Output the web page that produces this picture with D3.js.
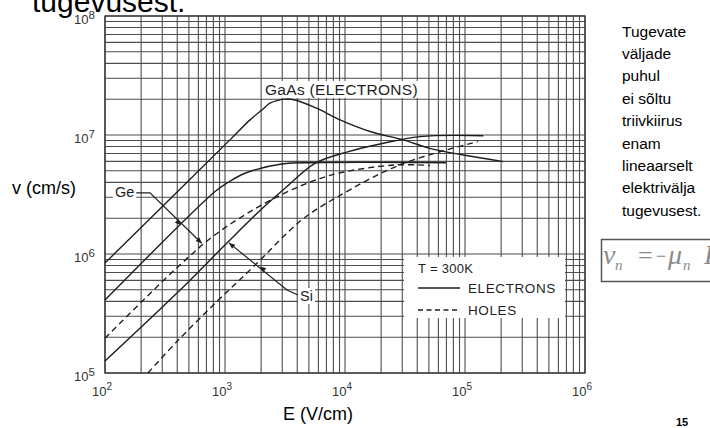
<!DOCTYPE html>
<html><head><meta charset="utf-8">
<script src="https://cdn.jsdelivr.net/npm/d3@7"></script>
<style>
body{margin:0;background:#fff;}
svg{display:block;}
</style></head><body>
<svg id="c" width="710" height="428"></svg>
<script>
// ---------- data ----------
const xTickValues = [1e2, 1e3, 1e4, 1e5, 1e6];
const xTickExponents = ["2", "3", "4", "5", "6"];
const yTickValues = [1e5, 1e6, 1e7, 1e8];
const yTickExponents = ["5", "6", "7", "8"];
const xAxisTitle = "E (V/cm)";
const yAxisTitle = "v (cm/s)";

// GaAs electrons (solid)
const gaasE = [100, 1100, 1616, 2030, 2370, 3160, 3830, 5800, 9090, 16200, 30600, 51000, 97000, 209000];
const gaasV = [8.4e5, 9.1e6, 1.34e7, 1.62e7, 1.85e7, 2.0e7, 1.97e7, 1.68e7, 1.34e7, 1.07e7, 9.1e6, 7.73e6, 6.79e6, 5.97e6];
// Ge electrons (solid)
const geElecE = [100, 826, 1033, 1468, 2970, 5620, 69500];
const geElecV = [4.1e5, 3.35e6, 3.93e6, 4.77e6, 5.7e6, 5.85e6, 5.85e6];
// Ge holes (dashed)
const geHoleE = [100, 202, 422, 826, 2020, 4640, 8790, 26100, 51000];
const geHoleV = [1.96e5, 3.97e5, 8.1e5, 1.45e6, 2.58e6, 3.87e6, 4.77e6, 5.6e6, 5.55e6];
// Si electrons (solid)
const siElecE = [100, 396, 1033, 2020, 3270, 5620, 10700, 19600, 42200, 142000];
const siElecV = [1.26e5, 4.67e5, 1.23e6, 2.39e6, 3.68e6, 5.78e6, 7.25e6, 8.4e6, 9.7e6, 9.87e6];
// Si holes (dashed)
const siHoleE = [228, 408, 853, 1720, 4350, 8250, 29500, 128000];
const siHoleV = [1e5, 1.89e5, 3.97e5, 7.8e5, 1.93e6, 2.94e6, 5.68e6, 8.8e6];

const seriesNames = ["GaAs electrons", "Ge electrons", "Ge holes", "Si electrons", "Si holes"];
const seriesCarrier = ["electrons", "electrons", "holes", "electrons", "holes"];

// annotations (data coordinates)
const gaasLabel = "GaAs (ELECTRONS)";
const gaasLabelAt = [2154, 2.17e7];
const geLabel = "Ge";
const geLeaderE = [181, 237, 640];
const geLeaderV = [3.26e6, 3.26e6, 1.23e6];
const geMidArrow = [430, 1.75e6];
const siLabel = "Si";
const siLeaderE = [4060, 3285, 1080];
const siLeaderV = [4.52e5, 4.98e5, 1.24e6];
const siMidArrow = [1958, 7.85e5];

const legendTitle = "T = 300K";
const legendItems = ["ELECTRONS", "HOLES"];
const titleText = "tugevusest.";
const sideText = ["Tugevate", "väljade", "puhul", "ei sõltu", "triivkiirus", "enam", "lineaarselt", "elektrivälja", "tugevusest."];
const pageNumber = "15";

// ---------- drawing ----------
const svg = d3.select("#c");
const L = 105, R = 585, T = 16, B = 373;
const x = d3.scaleLog().domain([1e2, 1e6]).range([L, R]);
const y = d3.scaleLog().domain([1e5, 1e8]).range([B, T]);

const ink = "#1e1e1e";
const gridCol = "#4d4d4d";

// title (cut off at top)
svg.append("text").attr("x", 32).attr("y", 11.5)
  .attr("font-family", "Liberation Sans, Arial, sans-serif").attr("font-size", 30)
  .attr("fill", "#000").text(titleText);

// grid values
const gridVals = (lo, hi) => {
  const out = [];
  for (let d = lo; d < hi; d++) for (let k = 1; k <= 9; k++) out.push(k * Math.pow(10, d));
  out.push(Math.pow(10, hi));
  return out;
};
const gx = gridVals(2, 6), gy = gridVals(5, 8);
const grid = svg.append("g").attr("stroke", gridCol).attr("stroke-width", 1.1);
grid.selectAll("line.v").data(gx).join("line").attr("class", "v")
  .attr("x1", d => x(d)).attr("x2", d => x(d)).attr("y1", T).attr("y2", B);
grid.selectAll("line.h").data(gy).join("line").attr("class", "h")
  .attr("y1", d => y(d)).attr("y2", d => y(d)).attr("x1", L).attr("x2", R);
svg.append("rect").attr("x", L).attr("y", T).attr("width", R - L).attr("height", B - T)
  .attr("fill", "none").attr("stroke", "#333").attr("stroke-width", 1.3);

// axes via d3 (labels only)
const fontTech = "Liberation Sans, Arial, sans-serif";
const xAxis = d3.axisBottom(x).tickValues(xTickValues).tickSize(0).tickFormat(() => "");
const xg = svg.append("g").attr("transform", `translate(0,${B})`).call(xAxis);
xg.select(".domain").remove();
xg.selectAll(".tick").each(function (d, i) {
  const t = d3.select(this).append("text").attr("x", -13.5).attr("y", 23)
    .attr("text-anchor", "start").attr("fill", "#333")
    .attr("font-family", fontTech).attr("font-size", 13).text("10");
  t.append("tspan").attr("dy", -6).attr("font-size", 10).text(xTickExponents[i]);
});
const yAxis = d3.axisLeft(y).tickValues(yTickValues).tickSize(0).tickFormat(() => "");
const yg = svg.append("g").attr("transform", `translate(${L},0)`).call(yAxis);
yg.select(".domain").remove();
yg.selectAll(".tick").each(function (d, i) {
  const t = d3.select(this).append("text").attr("x", -31).attr("y", 7)
    .attr("text-anchor", "start").attr("fill", "#333")
    .attr("font-family", fontTech).attr("font-size", 13).text("10");
  t.append("tspan").attr("dy", -4.5).attr("font-size", 11.5).text(yTickExponents[i]);
});

svg.append("text").attr("x", 12).attr("y", 194).attr("font-family", "Liberation Sans, Arial, sans-serif")
  .attr("font-size", 18).attr("fill", "#000").text(yAxisTitle);
svg.append("text").attr("x", 283).attr("y", 420).attr("font-family", "Liberation Sans, Arial, sans-serif")
  .attr("font-size", 18).attr("fill", "#000").text(xAxisTitle);

// curves
const series = [
  d3.zip(gaasE, gaasV), d3.zip(geElecE, geElecV), d3.zip(geHoleE, geHoleV),
  d3.zip(siElecE, siElecV), d3.zip(siHoleE, siHoleV)
];
const line = d3.line().x(d => x(d[0])).y(d => y(d[1])).curve(d3.curveCatmullRom.alpha(0.5));
svg.append("g").selectAll("path").data(series).join("path")
  .attr("d", line).attr("fill", "none").attr("stroke", ink).attr("stroke-width", 1.4)
  .attr("stroke-dasharray", (d, i) => seriesCarrier[i] === "holes" ? "6,4" : null);

// labels with white backgrounds
function bgText(px, py, txt, size, ls) {
  const g = svg.append("g");
  const t = g.append("text").attr("x", px).attr("y", py).attr("font-family", fontTech)
    .attr("font-size", size).attr("letter-spacing", ls).attr("fill", ink).text(txt);
  const bb = t.node().getBBox();
  g.insert("rect", "text").attr("x", bb.x - 2).attr("y", bb.y).attr("width", bb.width + 4)
    .attr("height", bb.height).attr("fill", "#fff");
  return t;
}
bgText(x(gaasLabelAt[0]), y(gaasLabelAt[1]), gaasLabel, 15.5, 0.3);

// leaders
const leader = d3.line().x(d => x(d[0])).y(d => y(d[1]));
function arrowHead(px, py, ang) {
  const s = 6, w = 2.6;
  const p = [[0, 0], [-s, -w], [-s, w]].map(([a, b]) => [
    px + a * Math.cos(ang) - b * Math.sin(ang), py + a * Math.sin(ang) + b * Math.cos(ang)]);
  svg.append("path").attr("d", "M" + p.join("L") + "Z").attr("fill", ink);
}
function drawLeader(E, V, mid, label, lx, ly) {
  const pts = d3.zip(E, V);
  svg.append("path").attr("d", leader(pts)).attr("fill", "none").attr("stroke", ink).attr("stroke-width", 1.2);
  const n = pts.length;
  const a = [x(pts[n - 2][0]), y(pts[n - 2][1])], b = [x(pts[n - 1][0]), y(pts[n - 1][1])];
  const ang = Math.atan2(b[1] - a[1], b[0] - a[0]);
  arrowHead(b[0], b[1], ang);
  arrowHead(x(mid[0]), y(mid[1]), ang);
  bgText(x(pts[0][0]) + lx, y(pts[0][1]) + ly, label, 14.5, 0);
}
drawLeader(geLeaderE, geLeaderV, geMidArrow, geLabel, -21, 4.5);
drawLeader(siLeaderE, siLeaderV, siMidArrow, siLabel, 2, 6);

// legend
const lg = svg.append("g").attr("transform", "translate(404,257)");
lg.append("rect").attr("width", 161).attr("height", 61).attr("fill", "#fff");
lg.append("text").attr("x", 14).attr("y", 16).attr("font-family", fontTech).attr("font-size", 13)
  .attr("letter-spacing", 0.3).attr("fill", ink).text(legendTitle);
legendItems.forEach((t, i) => {
  const yy = 31 + i * 22;
  lg.append("line").attr("x1", 14).attr("x2", 56).attr("y1", yy).attr("y2", yy)
    .attr("stroke", ink).attr("stroke-width", 1.4).attr("stroke-dasharray", i === 1 ? "5,3.5" : null);
  lg.append("text").attr("x", 64).attr("y", yy + 5).attr("font-family", fontTech).attr("font-size", 13.5)
    .attr("letter-spacing", 0.6).attr("fill", ink).text(t);
});

// side text
svg.append("g").selectAll("text").data(sideText).join("text")
  .attr("x", 622).attr("y", (d, i) => 36.5 + i * 22.4)
  .attr("font-family", "Liberation Sans, Arial, sans-serif").attr("font-size", 15.5)
  .attr("fill", "#000").text(d => d);

// formula box
svg.append("rect").attr("x", 601.5).attr("y", 239.5).attr("width", 130).attr("height", 42)
  .attr("fill", "#fff").attr("stroke", "#555").attr("stroke-width", 1.5);
const fm = svg.append("g").attr("font-family", "Liberation Serif, Times New Roman, serif").attr("fill", "#8a8a8a");
fm.append("text").attr("x", 603).attr("y", 264).attr("font-size", 28).attr("font-style", "italic").text("v");
fm.append("text").attr("x", 615).attr("y", 270).attr("font-size", 15).attr("font-style", "italic").text("n");
fm.append("text").attr("x", 638).attr("y", 264).attr("font-size", 26).text("=");
fm.append("text").attr("x", 656).attr("y", 262).attr("font-size", 18).text("\u2212");
fm.append("text").attr("x", 668).attr("y", 264).attr("font-size", 28).attr("font-style", "italic").text("\u03bc");
fm.append("text").attr("x", 683).attr("y", 270).attr("font-size", 15).attr("font-style", "italic").text("n");
fm.append("text").attr("x", 704).attr("y", 264).attr("font-size", 28).attr("font-style", "italic").text("E");

svg.append("text").attr("x", 676).attr("y", 426).attr("font-family", "Liberation Sans, Arial, sans-serif")
  .attr("font-size", 11).attr("font-weight", "bold").attr("fill", "#000").text(pageNumber);
</script>
</body></html>
